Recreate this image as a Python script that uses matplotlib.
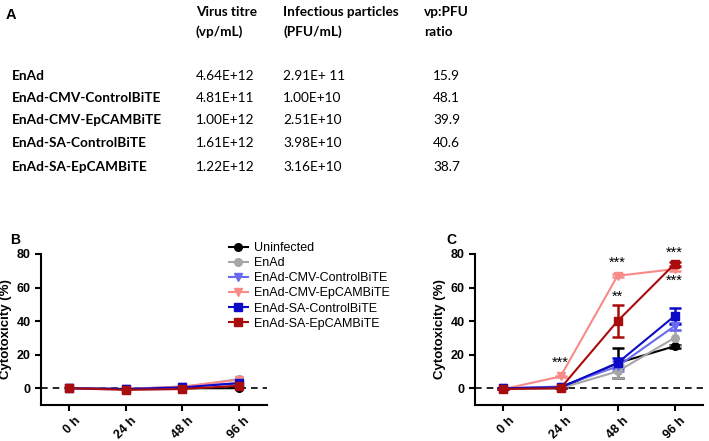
import matplotlib
matplotlib.use("Agg")
import matplotlib.pyplot as plt
from matplotlib.transforms import ScaledTranslation

# ---- table (panel A) ----
viruses = ["EnAd", "EnAd-CMV-ControlBiTE", "EnAd-CMV-EpCAMBiTE",
           "EnAd-SA-ControlBiTE", "EnAd-SA-EpCAMBiTE"]
vp_titre = ["4.64E+12", "4.81E+11", "1.00E+12", "1.61E+12", "1.22E+12"]
pfu_titre = ["2.91E+ 11", "1.00E+10", "2.51E+10", "3.98E+10", "3.16E+10"]
vp_pfu = ["15.9", "48.1", "39.9", "40.6", "38.7"]

# ---- cytotoxicity curves (panels B and C) ----
times = ["0 h", "24 h", "48 h", "96 h"]
labels = ["Uninfected", "EnAd", "EnAd-CMV-ControlBiTE", "EnAd-CMV-EpCAMBiTE",
          "EnAd-SA-ControlBiTE", "EnAd-SA-EpCAMBiTE"]
colors = ["#000000", "#a6a6a6", "#6a6af0", "#f88a8a", "#0a0ac8", "#a80c0c"]
markers = ["o", "o", "v", "v", "s", "s"]

# panel B
uninf_b = [0, -0.5, 0, 0]
enad_b = [0, -0.5, 0.5, 5.5]
cmv_ctrl_b = [0, -0.5, 1, 3]
cmv_ep_b = [0, -0.5, 1, 5]
sa_ctrl_b = [0, -0.5, 0.5, 3]
sa_ep_b = [0, -1, -0.5, 1.5]
vals_b = [uninf_b, enad_b, cmv_ctrl_b, cmv_ep_b, sa_ctrl_b, sa_ep_b]

# panel C (mean, error)
uninf_c = [0, 0, 15, 25]
uninf_c_err = [0, 0, 9, 1]
enad_c = [0, 0, 10, 30]
enad_c_err = [0, 0, 4, 5]
cmv_ctrl_c = [0, 1, 13, 37]
cmv_ctrl_c_err = [0, 0, 3, 2]
cmv_ep_c = [-0.5, 7, 67, 71]
cmv_ep_c_err = [0, 0.5, 1, 1]
sa_ctrl_c = [0, 0.5, 15, 43]
sa_ctrl_c_err = [0, 0, 3, 5]
sa_ep_c = [-0.5, 0, 40, 74]
sa_ep_c_err = [0, 0, 9.5, 1]
vals_c = [uninf_c, enad_c, cmv_ctrl_c, cmv_ep_c, sa_ctrl_c, sa_ep_c]
errs_c = [uninf_c_err, enad_c_err, cmv_ctrl_c_err, cmv_ep_c_err,
          sa_ctrl_c_err, sa_ep_c_err]

# significance stars: (time index, y, text)
star_pos = [1, 2, 2, 3, 3]
star_y = [15, 75, 54.5, 81, 64]
star_txt = ["***", "***", "**", "***", "***"]

plt.rcParams["font.family"] = ["Liberation Sans", "DejaVu Sans"]

fig = plt.figure(figsize=(7.09, 4.41), dpi=100)
W, H = 709, 441


def fx(px):
    return px / W


def fy(py):
    return 1 - py / H


tfont = dict(family=["Lato", "DejaVu Sans"], fontsize=9.8, va="center")
fig.text(fx(6), fy(15), "A", fontweight="bold", fontsize=10.5, va="center")
fig.text(fx(196), fy(12), "Virus titre", fontweight="bold", **tfont)
fig.text(fx(196), fy(32), "(vp/mL)", fontweight="bold", **tfont)
fig.text(fx(283), fy(12), "Infectious particles", fontweight="bold", **tfont)
fig.text(fx(283), fy(32), "(PFU/mL)", fontweight="bold", **tfont)
fig.text(fx(424), fy(12), "vp:PFU", fontweight="bold", **tfont)
fig.text(fx(424), fy(32), "ratio", fontweight="bold", **tfont)
row_y = [76, 98, 120, 143, 167]
for name, vp, pfu, r, yy in zip(viruses, vp_titre, pfu_titre, vp_pfu, row_y):
    fig.text(fx(12), fy(yy), name, fontweight="bold", **tfont)
    fig.text(fx(196), fy(yy), vp, **tfont)
    fig.text(fx(283), fy(yy), pfu, **tfont)
    fig.text(fx(433), fy(yy), r, **tfont)

fig.text(fx(10), fy(240), "B", fontweight="bold", fontsize=10, va="center")
fig.text(fx(446), fy(240), "C", fontweight="bold", fontsize=10, va="center")

ax_b = fig.add_axes([fx(41), fy(405), fx(226), (405 - 254) / H])
ax_c = fig.add_axes([fx(475), fy(405), fx(228), (405 - 254) / H])

x = list(range(len(times)))
for ax in (ax_b, ax_c):
    ax.axhline(0, color="black", ls=(0, (4, 3)), lw=1.2, zorder=1)

for v, c, m, lab in zip(vals_b, colors, markers, labels):
    ax_b.plot(x, v, color=c, marker=m, ms=5.5, lw=1.5, label=lab, zorder=3)

for v, e, c, m in zip(vals_c, errs_c, colors, markers):
    ax_c.errorbar(x, v, yerr=e, color=c, marker=m, ms=5.5, lw=1.5,
                  elinewidth=1.8, capsize=4, capthick=1.8, zorder=3)

for p, yy, t in zip(star_pos, star_y, star_txt):
    ax_c.text(p, yy, t, ha="center", va="center", fontsize=10.5)

shift = ScaledTranslation(5 / 100, 0, fig.dpi_scale_trans)
for ax in (ax_b, ax_c):
    ax.set_xlim(-0.5, 3.5)
    ax.set_ylim(-10, 80)
    ax.set_yticks([0, 20, 40, 60, 80])
    ax.set_xticks(x)
    ax.set_xticklabels(times, rotation=45, ha="right",
                       rotation_mode="anchor")
    for s in ("top", "right"):
        ax.spines[s].set_visible(False)
    for s in ("left", "bottom"):
        ax.spines[s].set_linewidth(1.5)
    ax.tick_params(width=1.5, length=4, labelsize=9)
    ax.tick_params(axis="x", labelsize=9, pad=3)
    for lbl in ax.get_xticklabels():
        lbl.set_transform(lbl.get_transform() + shift)
    for lbl in ax.get_xticklabels() + ax.get_yticklabels():
        lbl.set_fontweight("bold")
    ax.set_ylabel("Cytotoxicity (%)", fontsize=9.5, fontweight="bold",
                  labelpad=3)

ax_b.legend(loc="upper left", bbox_to_anchor=(fx(229), fy(242)),
            bbox_transform=fig.transFigure, frameon=False, fontsize=9,
            handlelength=1.5, handletextpad=0.5, labelspacing=0.25,
            borderaxespad=0, borderpad=0)

fig.savefig("out.png", dpi=100)
